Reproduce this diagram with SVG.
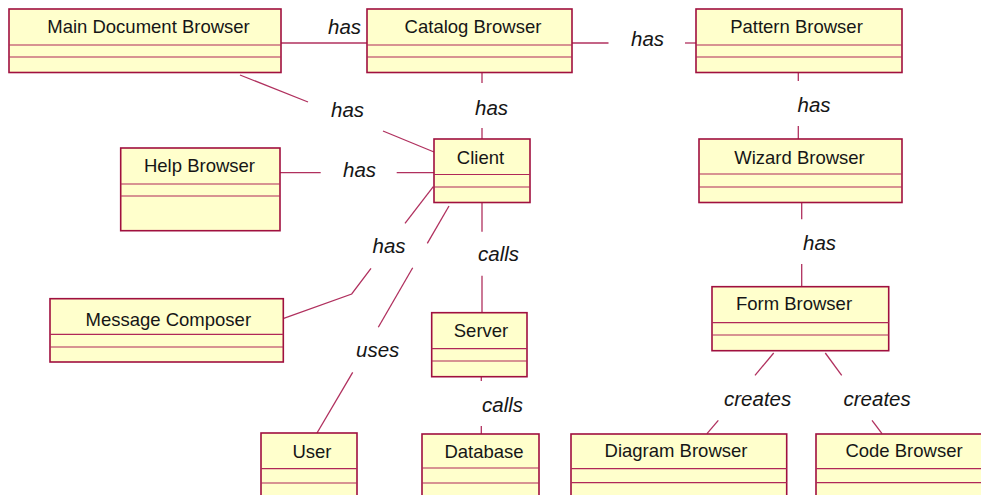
<svg xmlns="http://www.w3.org/2000/svg" width="981" height="495" viewBox="0 0 981 495">
<style>
.box{fill:#FFFFCC;stroke:#A0103F;stroke-width:1.6}
.div{stroke:#B02858;stroke-width:1.2}
.name{font-family:"Liberation Sans",Arial,sans-serif;font-size:18.5px;fill:#161616;text-anchor:middle}
.lbl{font-family:"Liberation Sans",Arial,sans-serif;font-size:20.5px;font-style:italic;fill:#161616}
.con{fill:none;stroke:#B0305E;stroke-width:1.3}
</style>
<rect width="981" height="495" fill="#FFFFFF"/>
<g id="connectors">
<line class="con" x1="281" y1="43" x2="367" y2="43"/>
<line class="con" x1="572" y1="43" x2="608.5" y2="43"/>
<line class="con" x1="685" y1="43" x2="696" y2="43"/>
<line class="con" x1="482" y1="72.5" x2="482" y2="83"/>
<line class="con" x1="482" y1="128" x2="482" y2="139"/>
<line class="con" x1="240" y1="75" x2="308" y2="102"/>
<line class="con" x1="383" y1="131" x2="434" y2="152"/>
<line class="con" x1="280" y1="172.7" x2="320.7" y2="172.7"/>
<line class="con" x1="396.7" y1="172.7" x2="434" y2="172.7"/>
<polyline class="con" points="283,318.7 351.7,294 371,268.3"/>
<line class="con" x1="405" y1="223.3" x2="433.3" y2="186.7"/>
<line class="con" x1="449" y1="206" x2="427.3" y2="243.3"/>
<line class="con" x1="412.7" y1="267.7" x2="378.3" y2="327.3"/>
<line class="con" x1="352.7" y1="372.3" x2="317" y2="433"/>
<line class="con" x1="482" y1="202.7" x2="482" y2="231.7"/>
<line class="con" x1="482" y1="275.7" x2="482" y2="312.7"/>
<line class="con" x1="481.3" y1="377" x2="481.3" y2="381"/>
<line class="con" x1="481.3" y1="426" x2="481.3" y2="434"/>
<line class="con" x1="798.3" y1="72.7" x2="798.3" y2="81"/>
<line class="con" x1="798.3" y1="126" x2="798.3" y2="139"/>
<line class="con" x1="801.7" y1="202.7" x2="801.7" y2="219.3"/>
<line class="con" x1="801.7" y1="264" x2="801.7" y2="286.7"/>
<line class="con" x1="773.7" y1="353" x2="755" y2="375.3"/>
<line class="con" x1="718.3" y1="420.3" x2="707" y2="433.7"/>
<line class="con" x1="825.3" y1="353" x2="841.7" y2="375.3"/>
<line class="con" x1="872" y1="420.3" x2="882" y2="433.7"/>
<text class="lbl" x="328" y="34">has</text>
<text class="lbl" x="631" y="45.5">has</text>
<text class="lbl" x="475" y="114.5">has</text>
<text class="lbl" x="331" y="117">has</text>
<text class="lbl" x="343" y="176.5">has</text>
<text class="lbl" x="372.5" y="252.5">has</text>
<text class="lbl" x="356" y="357">uses</text>
<text class="lbl" x="478" y="261">calls</text>
<text class="lbl" x="482" y="411.5">calls</text>
<text class="lbl" x="797.5" y="111.5">has</text>
<text class="lbl" x="803" y="250">has</text>
<text class="lbl" x="724" y="405.5">creates</text>
<text class="lbl" x="843.5" y="405.5">creates</text>
</g>
<g id="main-document-browser">
<rect class="box" x="9" y="9" width="272" height="63.5"/>
<line class="div" x1="9" y1="45" x2="281" y2="45"/>
<line class="div" x1="9" y1="57" x2="281" y2="57"/>
<text class="name" x="148.5" y="33.3">Main Document Browser</text>
</g>
<g id="catalog-browser">
<rect class="box" x="367" y="9" width="205" height="63.5"/>
<line class="div" x1="367" y1="45" x2="572" y2="45"/>
<line class="div" x1="367" y1="57" x2="572" y2="57"/>
<text class="name" x="473" y="33.3">Catalog Browser</text>
</g>
<g id="pattern-browser">
<rect class="box" x="696" y="9" width="206" height="63.5"/>
<line class="div" x1="696" y1="45" x2="902" y2="45"/>
<line class="div" x1="696" y1="57" x2="902" y2="57"/>
<text class="name" x="796.5" y="33.3">Pattern Browser</text>
</g>
<g id="wizard-browser">
<rect class="box" x="699" y="139" width="203" height="63.5"/>
<line class="div" x1="699" y1="174" x2="902" y2="174"/>
<line class="div" x1="699" y1="187" x2="902" y2="187"/>
<text class="name" x="799.5" y="163.5">Wizard Browser</text>
</g>
<g id="client">
<rect class="box" x="434" y="139" width="96" height="63.5"/>
<line class="div" x1="434" y1="174.5" x2="530" y2="174.5"/>
<line class="div" x1="434" y1="187" x2="530" y2="187"/>
<text class="name" x="480.5" y="164">Client</text>
</g>
<g id="help-browser">
<rect class="box" x="120.7" y="148" width="159.3" height="82.7"/>
<line class="div" x1="120.7" y1="184" x2="280" y2="184"/>
<line class="div" x1="120.7" y1="196" x2="280" y2="196"/>
<text class="name" x="199.5" y="172.3">Help Browser</text>
</g>
<g id="message-composer">
<rect class="box" x="50" y="298.7" width="233.3" height="63.3"/>
<line class="div" x1="50" y1="334.3" x2="283.3" y2="334.3"/>
<line class="div" x1="50" y1="347" x2="283.3" y2="347"/>
<text class="name" x="168.3" y="325.7">Message Composer</text>
</g>
<g id="server">
<rect class="box" x="431.7" y="312.7" width="95.3" height="64"/>
<line class="div" x1="431.7" y1="348.7" x2="527" y2="348.7"/>
<line class="div" x1="431.7" y1="361" x2="527" y2="361"/>
<text class="name" x="481" y="337.3">Server</text>
</g>
<g id="user">
<rect class="box" x="261" y="433" width="96" height="70"/>
<line class="div" x1="261" y1="468.7" x2="357" y2="468.7"/>
<line class="div" x1="261" y1="483" x2="357" y2="483"/>
<text class="name" x="312" y="457.5">User</text>
</g>
<g id="database">
<rect class="box" x="422" y="434" width="117" height="70"/>
<line class="div" x1="422" y1="468" x2="539" y2="468"/>
<line class="div" x1="422" y1="483" x2="539" y2="483"/>
<text class="name" x="484" y="457.5">Database</text>
</g>
<g id="form-browser">
<rect class="box" x="712" y="286.7" width="176.7" height="64"/>
<line class="div" x1="712" y1="322.7" x2="888.7" y2="322.7"/>
<line class="div" x1="712" y1="335" x2="888.7" y2="335"/>
<text class="name" x="794" y="310">Form Browser</text>
</g>
<g id="diagram-browser">
<rect class="box" x="571" y="434" width="215.7" height="70"/>
<line class="div" x1="571" y1="468.7" x2="786.7" y2="468.7"/>
<line class="div" x1="571" y1="482.7" x2="786.7" y2="482.7"/>
<text class="name" x="676" y="457">Diagram Browser</text>
</g>
<g id="code-browser">
<rect class="box" x="816" y="434" width="180" height="70"/>
<line class="div" x1="816" y1="468.7" x2="996" y2="468.7"/>
<line class="div" x1="816" y1="482.7" x2="996" y2="482.7"/>
<text class="name" x="904" y="457">Code Browser</text>
</g>
</svg>
